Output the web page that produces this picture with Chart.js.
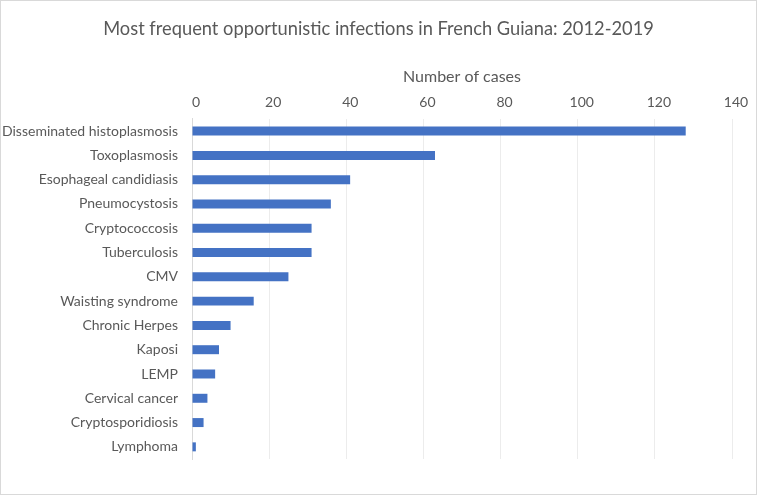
<!DOCTYPE html>
<html>
<head>
<meta charset="utf-8">
<script src="https://cdn.jsdelivr.net/npm/chart.js@4/dist/chart.umd.min.js"></script>
<style>
  html, body { margin: 0; padding: 0; background: #fff; }
  #wrap {
    width: 757px; height: 495px; box-sizing: border-box;
    border: 1px solid #d9d9d9; position: relative;
  }
</style>
</head>
<body>
<div id="wrap"><canvas id="chart"></canvas></div>
<script>
const infections = [
  "Disseminated histoplasmosis",
  "Toxoplasmosis",
  "Esophageal candidiasis",
  "Pneumocystosis",
  "Cryptococcosis",
  "Tuberculosis",
  "CMV",
  "Waisting syndrome",
  "Chronic Herpes",
  "Kaposi",
  "LEMP",
  "Cervical cancer",
  "Cryptosporidiosis",
  "Lymphoma",
];
const cases = [128, 63, 41, 36, 31, 31, 25, 16, 10, 7, 6, 4, 3, 1];
const axisMin = 0;
const axisMax = 140;
const axisStep = 20;

const textColor = "#595959";
const fontFamily = "Lato, 'Open Sans', sans-serif";

const ctx = document.getElementById("chart").getContext("2d");

new Chart(ctx, {
  type: "bar",
  data: {
    labels: infections,
    datasets: [
      {
        label: "Number of cases",
        data: cases,
        backgroundColor: "#4472c4",
        borderWidth: 0,
        barPercentage: 0.74,
        categoryPercentage: 0.5,
      },
    ],
  },
  options: {
    indexAxis: "y",
    responsive: true,
    maintainAspectRatio: false,
    animation: false,
    layout: { padding: { left: 0, right: 0, top: 0, bottom: 35 } },
    plugins: {
      legend: { display: false },
      tooltip: { enabled: false },
      title: {
        display: true,
        text: "Most frequent opportunistic infections in French Guiana: 2012-2019",
        color: textColor,
        font: { family: fontFamily, size: 18.3, weight: "normal" },
        padding: { top: 17, bottom: 24 },
      },
    },
    scales: {
      x: {
        position: "top",
        min: axisMin,
        max: axisMax,
        ticks: {
          stepSize: axisStep,
          color: textColor,
          font: { family: fontFamily, size: 14 },
          padding: 8,
          labelOffset: 4,
        },
        grid: { color: "#ececec", drawTicks: false },
        border: { display: false },
        title: {
          display: true,
          text: "Number of cases",
          color: textColor,
          font: { family: fontFamily, size: 16 },
          padding: { top: 3, bottom: 0 },
        },
      },
      y: {
        ticks: {
          color: textColor,
          font: { family: fontFamily, size: 14 },
          padding: 14,
        },
        grid: { display: false, drawTicks: false },
        border: { color: "#d9d9d9" },
        afterFit: (scale) => {
          scale.width = 191;
        },
      },
      // empty axis on the right, only keeps a margin after the 140 gridline
      yPad: {
        type: "linear",
        position: "right",
        ticks: { display: false },
        grid: { display: false, drawTicks: false },
        border: { display: false },
        afterFit: (scale) => {
          scale.width = 24;
        },
      },
    },
  },
});
</script>
</body>
</html>
